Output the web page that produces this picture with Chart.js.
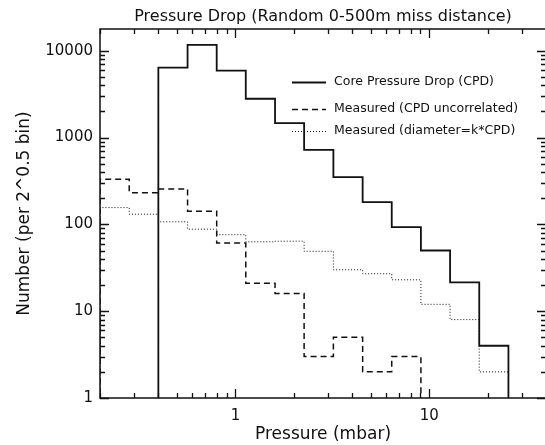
<!DOCTYPE html>
<html>
<head>
<meta charset="utf-8">
<script src="https://cdn.jsdelivr.net/npm/chart.js@4/dist/chart.umd.min.js"></script>
<style>
  html, body { margin: 0; padding: 0; background: #fff; overflow: hidden; }
  canvas { display: block; }
</style>
</head>
<body>
<canvas id="pressureChart" width="547" height="445"></canvas>
<script>
// bin edges, factor 2^0.5 apart (mbar)
const binEdges = [0.2, 0.283, 0.4, 0.566, 0.8, 1.13, 1.6, 2.26, 3.2, 4.53, 6.4, 9.05, 12.8, 18.1, 25.6];

// counts per bin
const corePressureDrop = [0, 0, 6400, 11700, 5900, 2800, 1470, 720, 350, 180, 93, 50, 21.5, 4];
const measuredUncorrelated = [330, 232, 256, 142, 61, 21, 16, 3, 5, 2, 3, 0, 0, 0];
const measuredDiameter = [156, 131, 107, 88, 76, 63, 64, 49, 30, 27, 23, 12, 8, 2];

const seriesLabels = ['Core Pressure Drop (CPD)', 'Measured (CPD uncorrelated)', 'Measured (diameter=k*CPD)'];
const xTickLabels = [1, 10];
const yTickLabels = [1, 10, 100, 1000, 10000];
const chartTitle = 'Pressure Drop (Random 0-500m miss distance)';

const INK = '#111';
const FLOOR = 0.5; // empty bins go below the axis and get clipped
const FONT = "'DejaVu Sans', sans-serif";

function stepPoints(counts) {
    const pts = [{ x: binEdges[0], y: FLOOR }];
    counts.forEach((c, i) => pts.push({ x: binEdges[i], y: c > 0 ? c : FLOOR }));
    pts.push({ x: binEdges[binEdges.length - 1], y: FLOOR });
    return pts;
}

// IDL style box with inward ticks on all four sides, title centred on the plot
const boxTicks = {
    id: 'boxTicks',
    afterDatasetsDraw(chart) {
        const { ctx, chartArea: a, scales: { x, y } } = chart;
        ctx.save();
        ctx.strokeStyle = INK;
        ctx.lineWidth = 1.5;
        ctx.strokeRect(a.left, a.top, a.right - a.left, a.bottom - a.top);
        ctx.lineWidth = 1.3;
        ctx.beginPath();
        for (let e = -1; e <= 1; e++) {
            for (let m = 1; m <= 9; m++) {
                const v = m * Math.pow(10, e);
                if (v < x.min || v > x.max) continue;
                const px = Math.round(x.getPixelForValue(v)) + 0.5;
                const len = m === 1 ? 9 : 5;
                ctx.moveTo(px, a.bottom); ctx.lineTo(px, a.bottom - len);
                ctx.moveTo(px, a.top); ctx.lineTo(px, a.top + len);
            }
        }
        for (let e = 0; e <= 4; e++) {
            for (let m = 1; m <= 9; m++) {
                const v = m * Math.pow(10, e);
                if (v < y.min || v > y.max) continue;
                const py = Math.round(y.getPixelForValue(v)) + 0.5;
                const len = m === 1 ? 9 : 5;
                ctx.moveTo(a.left, py); ctx.lineTo(a.left + len, py);
                ctx.moveTo(a.right, py); ctx.lineTo(a.right - len, py);
            }
        }
        ctx.stroke();

        ctx.fillStyle = INK;
        ctx.font = '16px ' + FONT;
        ctx.textAlign = 'center';
        ctx.textBaseline = 'middle';
        ctx.fillText(chartTitle, (a.left + a.right) / 2, 17);
        ctx.restore();
    }
};

// legend inside the plot, line sample then label
const insideLegend = {
    id: 'insideLegend',
    afterDraw(chart) {
        const ctx = chart.ctx;
        const rows = [82, 109, 131];
        ctx.save();
        ctx.font = '12.5px ' + FONT;
        ctx.textBaseline = 'middle';
        ctx.fillStyle = INK;
        chart.data.datasets.forEach((ds, i) => {
            ctx.strokeStyle = INK;
            ctx.lineWidth = ds.borderWidth;
            ctx.setLineDash(ds.borderDash || []);
            ctx.beginPath();
            ctx.moveTo(292, rows[i] + 0.5);
            ctx.lineTo(326, rows[i] + 0.5);
            ctx.stroke();
            ctx.fillText(ds.label, 334, rows[i]);
        });
        ctx.restore();
    }
};

new Chart(document.getElementById('pressureChart'), {
    type: 'line',
    data: {
        datasets: [
            {
                label: seriesLabels[0],
                data: stepPoints(corePressureDrop),
                borderColor: INK,
                borderWidth: 1.8
            },
            {
                label: seriesLabels[1],
                data: stepPoints(measuredUncorrelated),
                borderColor: INK,
                borderWidth: 1.5,
                borderDash: [6, 4]
            },
            {
                label: seriesLabels[2],
                data: stepPoints(measuredDiameter),
                borderColor: INK,
                borderWidth: 1,
                borderDash: [1, 2]
            }
        ]
    },
    options: {
        responsive: false,
        animation: false,
        elements: { point: { radius: 0 }, line: { stepped: 'before', tension: 0 } },
        layout: { padding: { left: 0, right: 1, top: 29, bottom: 0 } },
        plugins: {
            legend: { display: false },
            tooltip: { enabled: false },
            title: { display: false }
        },
        scales: {
            x: {
                type: 'logarithmic',
                min: 0.2,
                max: 40,
                grid: { display: false, drawTicks: false, tickLength: 0 },
                border: { display: false },
                afterFit(scale) {
                    scale.height = 47;
                    scale.paddingLeft = 0;
                    scale.paddingRight = 0;
                },
                ticks: {
                    autoSkip: false,
                    maxRotation: 0,
                    padding: 9,
                    color: INK,
                    font: { family: FONT, size: 15 },
                    callback: v => xTickLabels.includes(v) ? String(v) : ''
                },
                title: {
                    display: true,
                    text: 'Pressure (mbar)',
                    color: INK,
                    font: { family: FONT, size: 17 },
                    padding: { top: 1, bottom: 0 }
                }
            },
            y: {
                type: 'logarithmic',
                min: 1,
                max: 17800,
                grid: { display: false, drawTicks: false, tickLength: 0 },
                border: { display: false },
                afterFit(scale) {
                    scale.width = 100;
                    scale.paddingTop = 0;
                    scale.paddingBottom = 0;
                },
                ticks: {
                    autoSkip: false,
                    padding: 7,
                    color: INK,
                    font: { family: FONT, size: 15 },
                    callback: v => yTickLabels.includes(v) ? String(v) : ''
                },
                title: {
                    display: true,
                    text: 'Number (per 2^0.5 bin)',
                    color: INK,
                    font: { family: FONT, size: 17 },
                    padding: { top: 14, bottom: 0 }
                }
            }
        }
    },
    plugins: [boxTicks, insideLegend]
});
</script>
</body>
</html>
